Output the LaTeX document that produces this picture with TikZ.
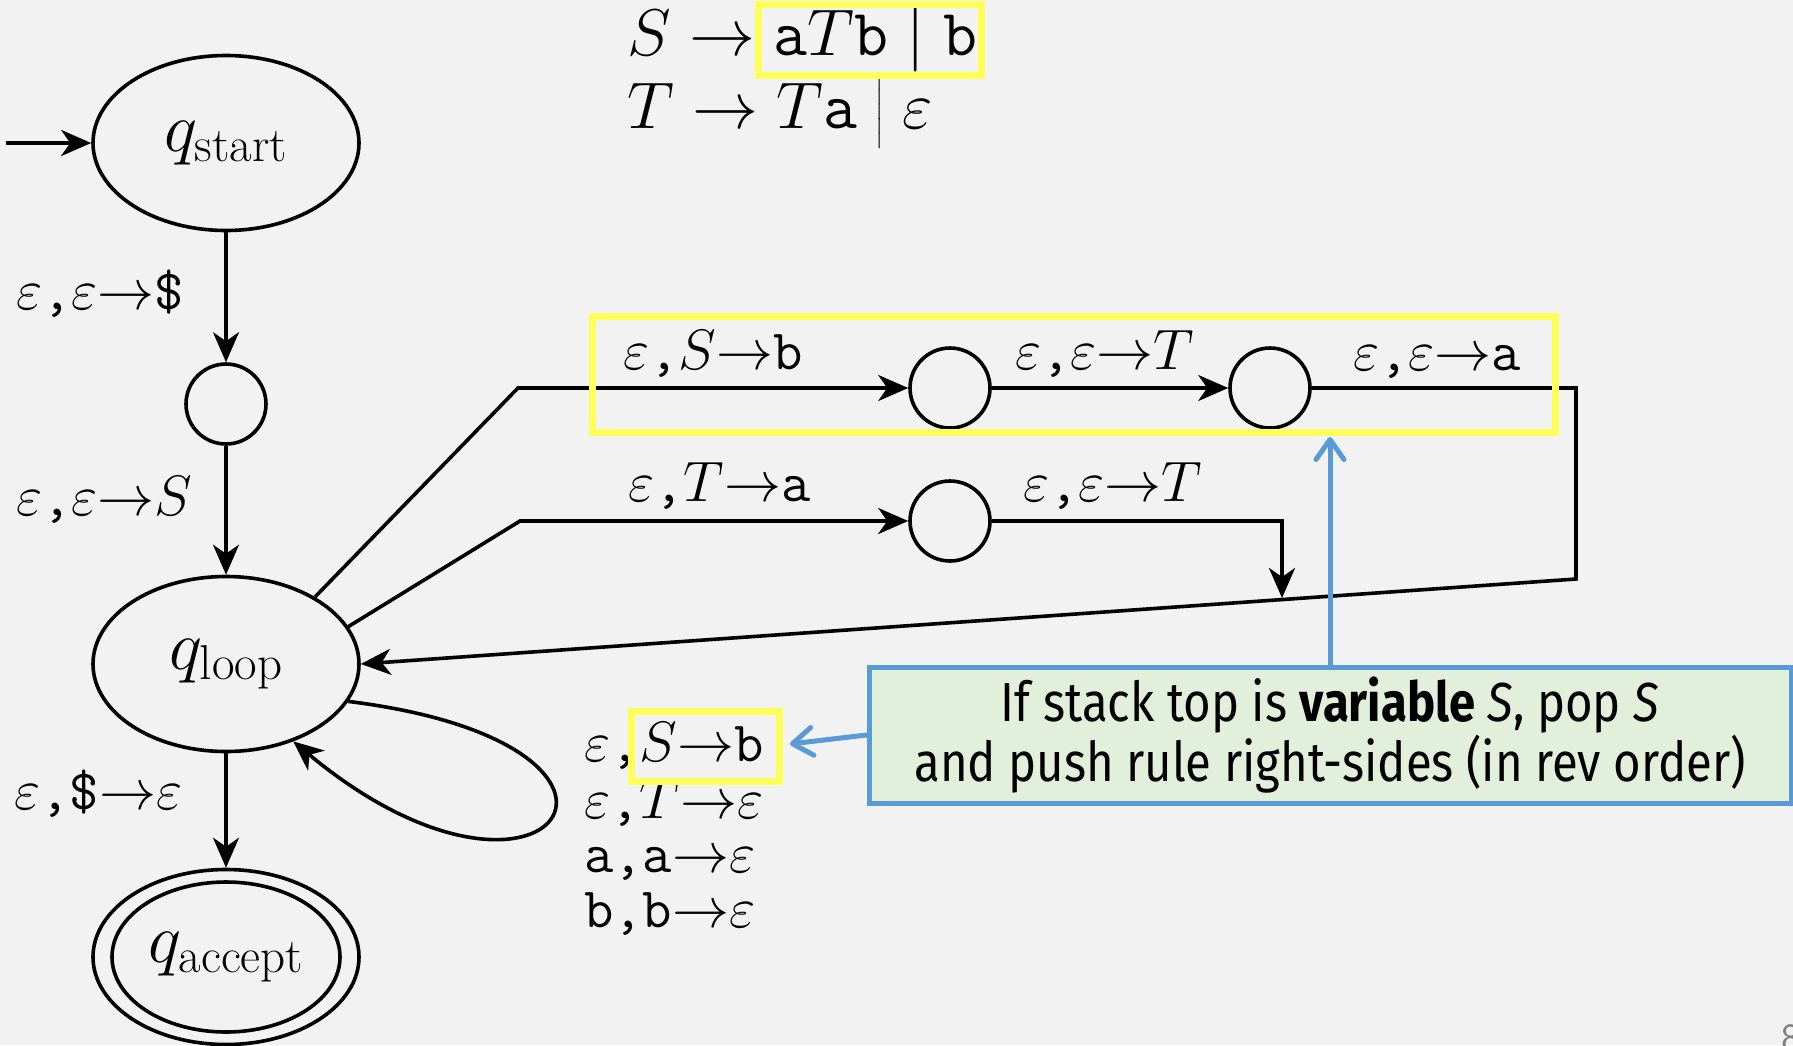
\RequirePackage{fix-cm}
\documentclass[tikz,border=0pt]{standalone}
\usepackage{amsmath}
\usepackage{fontspec}
\usetikzlibrary{arrows.meta,shapes.geometric}
\newfontfamily\calloutfont[FakeStretch=0.86]{Fira Sans}
\definecolor{bg}{RGB}{242,242,242}
\definecolor{hl}{RGB}{255,255,90}
\definecolor{cblue}{RGB}{91,155,213}
\definecolor{cgreen}{RGB}{226,239,218}
\tikzset{
  st/.style={ellipse, draw, line width=3.6pt, fill=bg, minimum width=266pt, minimum height=175pt, inner sep=0pt, font=\fontsize{70}{70}\selectfont},
  midst/.style={circle, draw, line width=3.6pt, fill=bg, minimum size=80pt, inner sep=0pt},
  tr/.style={line width=3.6pt, -{Stealth[length=30pt,width=26pt,inset=9pt]}},
  lab/.style={font=\fontsize{57}{57}\selectfont, inner sep=0pt, anchor=base west},
  gram/.style={font=\fontsize{66}{66}\selectfont, inner sep=0pt, anchor=base west},
  hlbox/.style={draw=hl, line width=7pt},
  bluearrow/.style={draw=cblue, line width=5pt, line cap=round, -{Straight Barb[length=20pt,width=28pt,round]}},
}
\begin{document}
\begin{tikzpicture}[x=1pt,y=-1pt]
\useasboundingbox[fill=bg] (0,0) rectangle (1793,1045);

% grammar
\node[gram] (g1) at (627,55) {$S \rightarrow \texttt{a}T\texttt{b} \mid \texttt{b}$};
\node[gram] (g2) at (627,128) {$T \rightarrow T\texttt{a} \mathrel{\big|} \varepsilon$};

% states
\node[st] (start) at (226,143) {$q_{\mathrm{start}}$};
\node[midst] (m1) at (226,404) {};
\node[st] (loop) at (226,664) {$q_{\mathrm{loop}}$};
\node[st] (acc) at (226,957) {$q_{\mathrm{accept}}$};
\node[ellipse, draw, line width=3.6pt, minimum width=228pt, minimum height=150pt, inner sep=0pt] (accin) at (226,957) {};

\coordinate (in) at (6,143);
\draw[tr] (in) -- (start);
\draw[tr] (start) -- (m1);
\draw[tr] (m1) -- (loop);
\draw[tr] (loop) -- (acc);

\node[lab] (l1) at (16,309) {$\varepsilon\texttt{,}\varepsilon{\to}\texttt{\$}$};
\node[lab] (l2) at (16,515) {$\varepsilon\texttt{,}\varepsilon{\to}S$};
\node[lab] (l3) at (14,809) {$\varepsilon\texttt{,}\texttt{\$}{\to}\varepsilon$};

% top path
\coordinate (k1) at (518,388);
\node[midst] (m2) at (950,388) {};
\node[midst] (m3) at (1270,388) {};
\coordinate (k2) at (1576,388);
\coordinate (k3) at (1576,579);
\draw[tr] (loop.37) -- (k1) -- (m2);
\draw[tr] (m2) -- (m3);
\draw[tr] (m3) -- (k2) -- (k3) -- (loop.east);
\node[lab] (t1) at (623,369) {$\varepsilon\texttt{,}S{\to}\texttt{b}$};
\node[lab] (t2) at (1015,369) {$\varepsilon\texttt{,}\varepsilon{\to}T$};
\node[lab] (t3) at (1353,370) {$\varepsilon\texttt{,}\varepsilon{\to}\texttt{a}$};

% middle path
\coordinate (k4) at (520,521);
\node[midst] (m4) at (950,521) {};
\coordinate (k5) at (1282,521);
\coordinate (k6) at (1282,598);
\draw[tr] (loop.17) -- (k4) -- (m4);
\draw[tr] (m4) -- (k5) -- (k6);
\node[lab] (u1) at (628,501) {$\varepsilon\texttt{,}T{\to}\texttt{a}$};
\node[lab] (u2) at (1023,501) {$\varepsilon\texttt{,}\varepsilon{\to}T$};

% self loop
\draw[tr] (loop.-17) .. controls (700,745) and (550,955) .. (loop.-49);
\node[lab] (s1) at (584,761) {$\varepsilon\texttt{,}S{\to}\texttt{b}$};
\node[lab] (s2) at (584,818) {$\varepsilon\texttt{,}T{\to}\varepsilon$};
\node[lab] (s3) at (584,872) {$\texttt{a}\texttt{,}\texttt{a}{\to}\varepsilon$};
\node[lab] (s4) at (584,927) {$\texttt{b}\texttt{,}\texttt{b}{\to}\varepsilon$};

% highlights
\draw[hlbox] (758,4) rectangle (981,75);
\draw[hlbox] (592,316) rectangle (1555,432);
\draw[hlbox] (631,711) rectangle (779,781);

% callout
\node[draw=cblue, fill=cgreen, line width=5pt, minimum width=922pt, minimum height=136pt, inner sep=0pt, align=center,
      font=\calloutfont\fontsize{55}{56}\selectfont] (call) at (1330,735)
  {If stack top is \textbf{variable} \textit{S}, pop \textit{S}\\and push rule right-sides (in rev order)};
\coordinate (bt) at (1330,437);
\coordinate (bl) at (790,744);
\draw[bluearrow] (call.north) -- (bt);
\draw[bluearrow] (call.west) -- (bl);

\node[anchor=north west, inner sep=0pt, text=gray, font=\sffamily\fontsize{40}{40}\selectfont] (pg) at (1781,1024) {8};
\end{tikzpicture}
\end{document}
